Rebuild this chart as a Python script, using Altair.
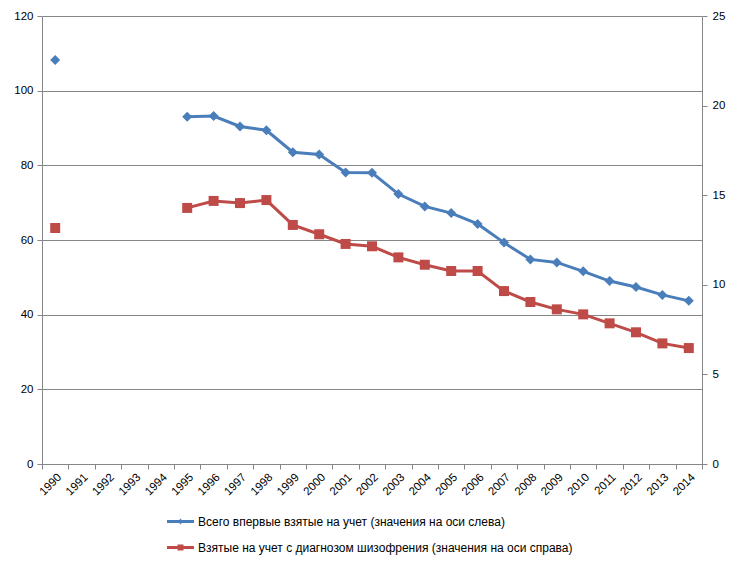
import altair as alt
import pandas as pd

years = [str(y) for y in range(1990, 2015)]
total = [108.2, None, None, None, None, 93.0, 93.2, 90.4, 89.4, 83.5, 82.9, 78.1, 78.0,
         72.3, 69.0, 67.2, 64.3, 59.3, 54.8, 54.0, 51.6, 49.0, 47.4, 45.3, 43.7]
schizo = [13.17, None, None, None, None, 14.29, 14.68, 14.56, 14.73, 13.34, 12.82, 12.28,
          12.15, 11.53, 11.12, 10.77, 10.77, 9.65, 9.04, 8.63, 8.35, 7.85, 7.35, 6.73, 6.47]
series_names = ["Всего впервые взятые на учет (значения на оси слева)",
                "Взятые на учет с диагнозом  шизофрения (значения на оси справа)"]

BLUE = "#4A7EBB"
RED = "#BE4B48"
GRID = "#868686"
FONT = "Liberation Sans"

df = pd.DataFrame({"year": years, "total": total, "schizo": schizo})

base = alt.Chart(df).transform_calculate(
    seg="toNumber(datum.year) < 1995 ? 'a' : 'b'"
)

x_enc = alt.X(
    "year:N",
    scale=alt.Scale(type="band", domain=years, paddingInner=0, paddingOuter=0),
    axis=alt.Axis(title=None, labelAngle=-45, tickBand="extent", tickSize=5,
                  domainColor=GRID, tickColor=GRID, labelColor="black",
                  labelFont=FONT, labelFontSize=11.5, labelPadding=2, grid=False),
)

y_left = alt.Y(
    "total:Q",
    scale=alt.Scale(domain=[0, 120], nice=False),
    axis=alt.Axis(title=None, values=[0, 20, 40, 60, 80, 100, 120], orient="left",
                  grid=True, gridColor=GRID, gridOpacity=1, domainColor=GRID,
                  tickColor=GRID, tickSize=5, labelColor="black", labelFont=FONT,
                  labelFontSize=11.5, labelPadding=4),
)
y_right = alt.Y(
    "schizo:Q",
    scale=alt.Scale(domain=[0, 25], nice=False),
    axis=alt.Axis(title=None, values=[0, 5, 10, 15, 20, 25], orient="right",
                  grid=False, domainColor=GRID, tickColor=GRID, tickSize=5,
                  labelColor="black", labelFont=FONT, labelFontSize=11.5,
                  labelPadding=5),
)

blue_line = base.transform_filter("isValid(datum.total)").mark_line(
    color=BLUE, strokeWidth=3
).encode(x=x_enc, y=y_left, detail="seg:N")
blue_pts = base.transform_filter("isValid(datum.total)").mark_point(
    shape="diamond", filled=True, color=BLUE, size=100, opacity=1
).encode(x=x_enc, y=y_left)

legend_paths = [
    "M-1,-0.11L1,-0.11L1,0.11L-1,0.11Z M0,-0.22L0.18,0L0,0.22L-0.18,0Z",
    "M-1,-0.11L1,-0.11L1,0.11L-1,0.11Z M-0.22,-0.22L0.22,-0.22L0.22,0.22L-0.22,0.22Z",
]
leg = alt.Legend(title=None, orient="none", legendX=125, legendY=492,
                 direction="vertical", symbolSize=729,
                 symbolStrokeWidth=0, labelFont=FONT,
                 labelFontSize=12, labelColor="black",
                 labelOffset=4, rowPadding=6, labelLimit=500)
legend_layer = base.transform_filter("false").mark_point(filled=True, opacity=1).encode(
    x=x_enc, y=y_left,
    color=alt.Color("series:N", scale=alt.Scale(domain=series_names, range=[BLUE, RED]),
                    legend=leg),
    shape=alt.Shape("series:N", scale=alt.Scale(domain=series_names, range=legend_paths),
                    legend=leg),
).transform_calculate(series="'" + series_names[0] + "'")

red_line = base.transform_filter("isValid(datum.schizo)").mark_line(
    color=RED, strokeWidth=3
).encode(x=x_enc, y=y_right, detail="seg:N")
red_pts = base.transform_filter("isValid(datum.schizo)").mark_point(
    shape="square", filled=True, color=RED, size=100, opacity=1
).encode(x=x_enc, y=y_right)

left = alt.layer(blue_line, blue_pts, legend_layer)
right = alt.layer(red_line, red_pts)

chart = alt.layer(left, right).resolve_scale(y="independent").properties(
    width=660, height=448,
    autosize=alt.AutoSizeParams(type="none"),
    padding={"left": 34, "top": 8, "right": 28, "bottom": 102},
).configure_view(stroke=None)

chart.save("out.html", embed_options={"renderer": "svg", "actions": False})
